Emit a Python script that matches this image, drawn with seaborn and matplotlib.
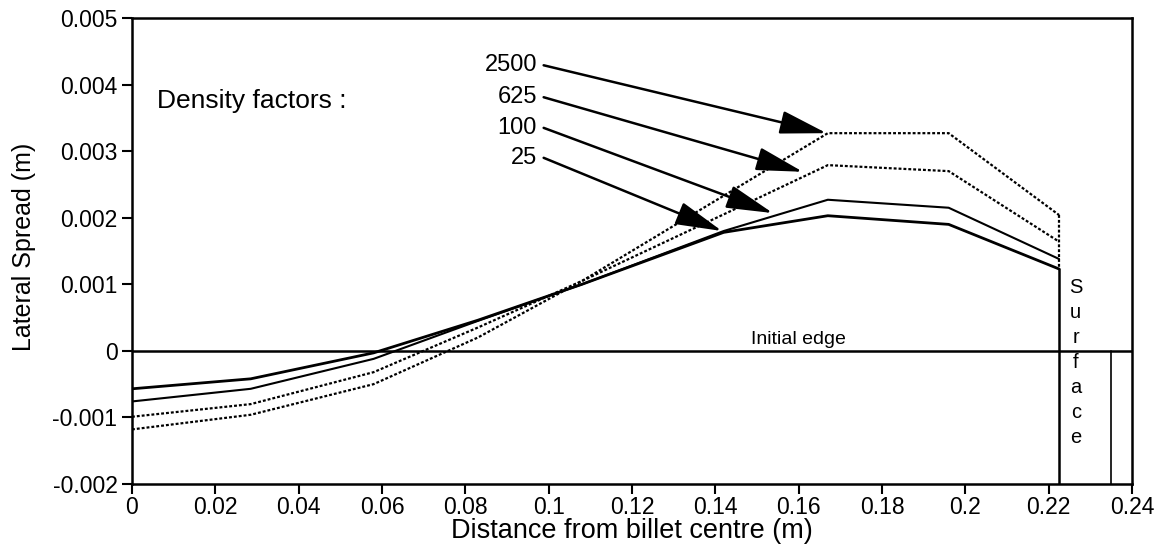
import matplotlib
matplotlib.use("Agg")
import matplotlib.pyplot as plt
import matplotlib.ticker as mticker
import seaborn as sns
import pandas as pd

# Node positions across the billet (m)
distance = [0.0, 0.0285, 0.058, 0.083, 0.108, 0.142, 0.167, 0.196, 0.2225]

# Lateral spread (m) for each density factor
spread_25 = [-0.00057, -0.00042, -0.00003, 0.00046, 0.00100, 0.00178, 0.00203, 0.00190, 0.00123]
spread_100 = [-0.00076, -0.00057, -0.00012, 0.00045, 0.00100, 0.00180, 0.00227, 0.00215, 0.00138]
spread_625 = [-0.00099, -0.00080, -0.00032, 0.00035, 0.00105, 0.00205, 0.00279, 0.00270, 0.00164]
spread_2500 = [-0.00118, -0.00096, -0.00050, 0.00020, 0.00105, 0.00233, 0.00327, 0.00327, 0.00204]

factor_labels = ["2500", "625", "100", "25"]
label_y = [0.00429, 0.00381, 0.00335, 0.00290]
arrow_tips_x = [0.1667, 0.161, 0.1538, 0.1416]
arrow_tips_y = [0.00327, 0.00269, 0.00207, 0.0018]

surface_x = 0.2225
outer_x = 0.235

sns.set_style("ticks")
plt.rcParams['font.family'] = ['Liberation Sans', 'DejaVu Sans']
plt.rcParams['text.color'] = 'black'
plt.rcParams['axes.labelcolor'] = 'black'

fig = plt.figure(figsize=(11.71, 5.56), dpi=100)
ax = fig.add_axes([0.1127, 0.1295, 0.854, 0.8381])

df = pd.DataFrame({
    'x': distance,
    '25': spread_25,
    '100': spread_100,
    '625': spread_625,
    '2500': spread_2500,
})

dotted = (0, (1.3, 0.9))
sns.lineplot(data=df, x='x', y='25', ax=ax, color='black', lw=2.0)
sns.lineplot(data=df, x='x', y='100', ax=ax, color='black', lw=1.5)
sns.lineplot(data=df, x='x', y='625', ax=ax, color='black', lw=1.6, linestyle=dotted)
sns.lineplot(data=df, x='x', y='2500', ax=ax, color='black', lw=1.6, linestyle=dotted)

# initial edge and surface lines
ax.axhline(0, color='black', lw=1.8)
ax.plot([surface_x, surface_x], [spread_25[-1], -0.002], color='black', lw=1.8)
ax.plot([surface_x, surface_x], [spread_2500[-1], spread_25[-1]], color='black', lw=1.6,
        linestyle=dotted)
ax.plot([outer_x, outer_x], [0, -0.002], color='black', lw=1.2)

# labels with arrows
for lab, ly, tx, ty in zip(factor_labels, label_y, arrow_tips_x, arrow_tips_y):
    ax.text(0.0972, ly, lab, ha='right', va='center', fontsize=17, color='black')
    ax.annotate('', xy=(tx, ty), xytext=(0.0988, ly),
                arrowprops=dict(arrowstyle='-|>,head_length=1.45,head_width=0.36',
                                mutation_scale=20, color='black', lw=1.8,
                                shrinkA=0, shrinkB=0))

ax.text(0.006, 0.00375, "Density factors :", ha='left', va='center', fontsize=19, color='black')
ax.text(0.16, 0.00004, "Initial edge", ha='center', va='bottom', fontsize=14, color='black')
ax.text(0.2265, 0.00109, "S\nu\nr\nf\na\nc\ne", ha='center', va='top', fontsize=14.5,
        linespacing=1.4, color='black')

ax.set_xlim(0, 0.24)
ax.set_ylim(-0.002, 0.005)
ax.set_xticks([0, 0.02, 0.04, 0.06, 0.08, 0.1, 0.12, 0.14, 0.16, 0.18, 0.2, 0.22, 0.24])
ax.set_yticks([-0.002, -0.001, 0, 0.001, 0.002, 0.003, 0.004, 0.005])
ax.xaxis.set_major_formatter(mticker.FormatStrFormatter('%g'))
ax.yaxis.set_major_formatter(mticker.FormatStrFormatter('%g'))
ax.tick_params(direction='out', length=7, width=1.5, labelsize=16.5, colors='black',
               top=False, right=False)
ax.tick_params(axis='x', pad=1.5)

for s in ax.spines.values():
    s.set_visible(True)
    s.set_linewidth(1.8)
    s.set_color('black')

ax.set_xlabel("Distance from billet centre (m)", fontsize=19.5, color='black')
ax.xaxis.set_label_coords(0.5, -0.073)
ax.set_ylabel("Lateral Spread (m)", fontsize=18, color='black')
ax.yaxis.set_label_coords(-0.096, 0.508)

fig.savefig("out.png", dpi=100)
